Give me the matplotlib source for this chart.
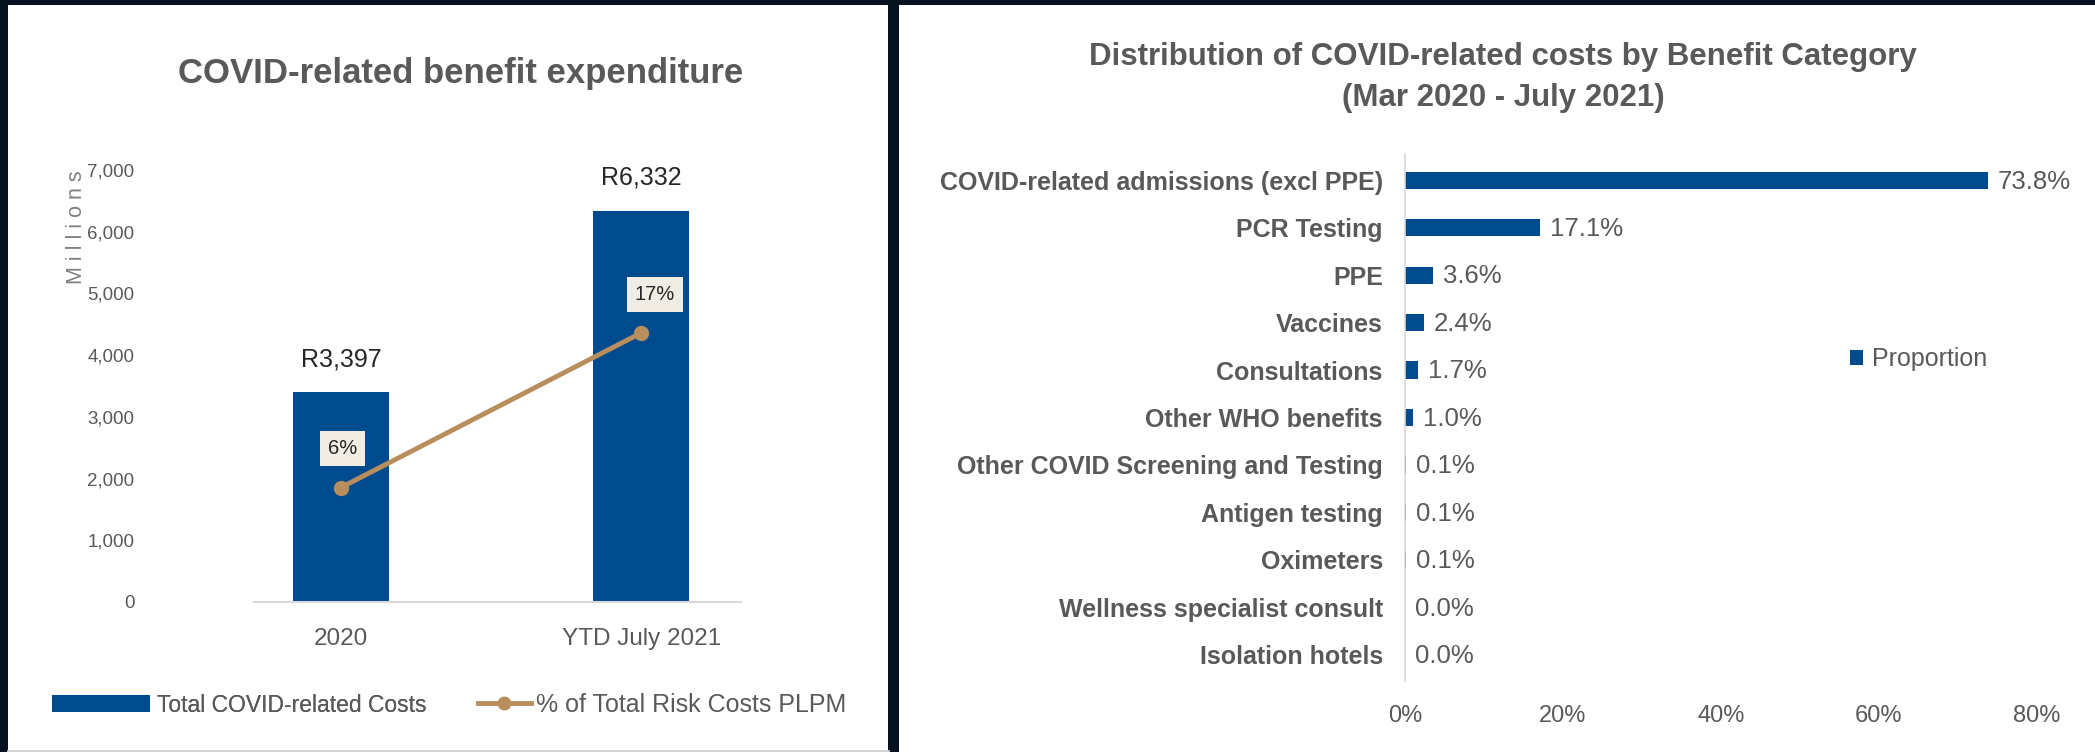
import matplotlib.pyplot as plt
from matplotlib.patches import Rectangle, Patch
from matplotlib.lines import Line2D
from matplotlib.ticker import FuncFormatter

plt.rcParams['font.family'] = ['Liberation Sans Narrow', 'Liberation Sans', 'DejaVu Sans']

# data - left chart
years = ['2020', 'YTD July 2021']
costs = [3397, 6332]           # R millions
cost_labels = ['R3,397', 'R6,332']
risk_pct = [6, 17]             # % of total risk costs PLPM

# data - right chart
categories = ['COVID-related admissions (excl PPE)', 'PCR Testing', 'PPE', 'Vaccines',
              'Consultations', 'Other WHO benefits', 'Other COVID Screening and Testing',
              'Antigen testing', 'Oximeters', 'Wellness specialist consult', 'Isolation hotels']
proportion = [73.8, 17.1, 3.6, 2.4, 1.7, 1.0, 0.1, 0.1, 0.1, 0.0, 0.0]

W, H = 2095, 752
navy = '#07121f'
blue = '#004b8d'
tan = '#b98e5d'
grey = '#595959'

fig = plt.figure(figsize=(W / 100, H / 100), dpi=100)
fig.patch.set_facecolor(navy)

def px(x0, y0, w, h):
    # pixel box (top-left origin) -> figure fraction
    return [x0 / W, 1 - (y0 + h) / H, w / W, h / H]

# white panels
fig.add_artist(Rectangle((8 / W, 0), (888 - 8) / W, 1 - 5 / H, transform=fig.transFigure,
                         facecolor='white', edgecolor='none', zorder=0))
fig.add_artist(Rectangle((899 / W, 0), (W - 899) / W, 1 - 5 / H, transform=fig.transFigure,
                         facecolor='white', edgecolor='none', zorder=0))
fig.add_artist(Line2D([8 / W, 888 / W], [1.5 / H, 1.5 / H], transform=fig.transFigure,
                      color='#d0d0d0', lw=2))

# ---------------- left chart ----------------
ax = fig.add_axes(px(254, 170, 487, 432))
x = list(range(len(years)))
ax.bar(x, costs, width=0.32, color=blue, zorder=2)
ax.set_xlim(-0.29, 1.333)
ax.set_ylim(0, 7000)
ax.set_yticks(range(0, 7001, 1000))
ax.yaxis.set_major_formatter(FuncFormatter(lambda v, p: f'{int(v):,}'))
ax.set_xticks(x)
ax.set_xticklabels(years)
for s in ['top', 'right', 'left']:
    ax.spines[s].set_visible(False)
ax.spines['bottom'].set_color('#d9d9d9')
ax.spines['bottom'].set_linewidth(1.5)
ax.tick_params(axis='y', length=0, pad=86, labelsize=13.5, labelcolor=grey)
ax.tick_params(axis='x', length=0, pad=19, labelsize=17.5, labelcolor=grey)
for i, v in enumerate(costs):
    ax.annotate(cost_labels[i], (x[i], v), xytext=(0, 24), textcoords='offset points',
                ha='center', va='center', fontsize=18, color='#262626')

ax2 = ax.twinx()
ax2.set_ylim(-2.15, 28.6)
ax2.axis('off')
ax2.plot(x, risk_pct, color=tan, lw=3.5, marker='o', markersize=10, zorder=3)
offsets = [(1, 28), (10, 28)]
for i, v in enumerate(risk_pct):
    ax2.annotate(f'{v}%', (x[i], v), xytext=offsets[i], textcoords='offset points',
                 ha='center', va='center', fontsize=14.5, color='#262626',
                 bbox=dict(boxstyle='square,pad=0.4', fc='#f1ece4', ec='none'))

fig.text(345 * 1.336 / W, 1 - 73 / H, 'COVID-related benefit expenditure', ha='center',
         va='center', fontsize=25, fontweight='bold', color=grey)
fig.text(76 / W, 1 - 227 / H, 'M i l l i o n s', rotation=90, ha='center', va='center',
         fontsize=15.5, color='#7f7f7f')

leg1 = fig.legend(handles=[Patch(facecolor=blue, edgecolor='none')],
                  labels=['Total COVID-related Costs'], loc='center left',
                  bbox_to_anchor=(31 / W, 1 - 705 / H), frameon=False, fontsize=16.5,
                  handlelength=4.3, handleheight=0.75, handletextpad=0.3, labelcolor=grey)
leg2 = fig.legend(handles=[Line2D([], [], color=tan, lw=3.5, marker='o', markersize=9)],
                  labels=['% of Total Risk Costs PLPM'], loc='center left',
                  bbox_to_anchor=(455 / W, 1 - 705 / H), frameon=False, fontsize=18,
                  handlelength=2.15, handletextpad=0.2, labelcolor=grey)
fig.add_artist(leg1)

# ---------------- right chart ----------------
bx = fig.add_axes(px(1405, 154, 632, 527))
y = list(range(len(categories)))
bx.barh(y, proportion, height=0.36, color=blue, label='Proportion', zorder=2)
bx.set_ylim(len(categories) - 0.45, -0.55)
bx.set_xlim(0, 80)
bx.set_yticks(y)
bx.set_yticklabels(categories)
bx.set_xticks(range(0, 81, 20))
bx.xaxis.set_major_formatter(FuncFormatter(lambda v, p: f'{int(v)}%'))
for s in ['top', 'right', 'bottom']:
    bx.spines[s].set_visible(False)
bx.spines['left'].set_color('#d9d9d9')
bx.spines['left'].set_linewidth(1.2)
bx.tick_params(axis='y', length=0, pad=16)
bx.tick_params(axis='x', length=0, pad=17, labelsize=17, labelcolor=grey)
for lab in bx.get_yticklabels():
    lab.set_fontsize(18)
    lab.set_fontweight('bold')
    lab.set_color(grey)
for i, v in enumerate(proportion):
    bx.annotate(f'{v:.1f}%', (v, y[i]), xytext=(7, -1), textcoords='offset points',
                ha='left', va='center', fontsize=18.5, color=grey)

fig.text(1125 * 1.336 / W, 1 - 77.5 / H,
         'Distribution of COVID-related costs by Benefit Category\n(Mar 2020 - July 2021)',
         ha='center', va='center', fontsize=22.5, fontweight='bold', color=grey,
         linespacing=1.45)
bx.legend(loc='center left', bbox_to_anchor=(1827 / W, 1 - 359 / H),
          bbox_transform=fig.transFigure, frameon=False, fontsize=18,
          handlelength=0.55, handleheight=0.55, handletextpad=0.35, labelcolor=grey)

plt.savefig('out.png', dpi=100, facecolor=fig.get_facecolor())
